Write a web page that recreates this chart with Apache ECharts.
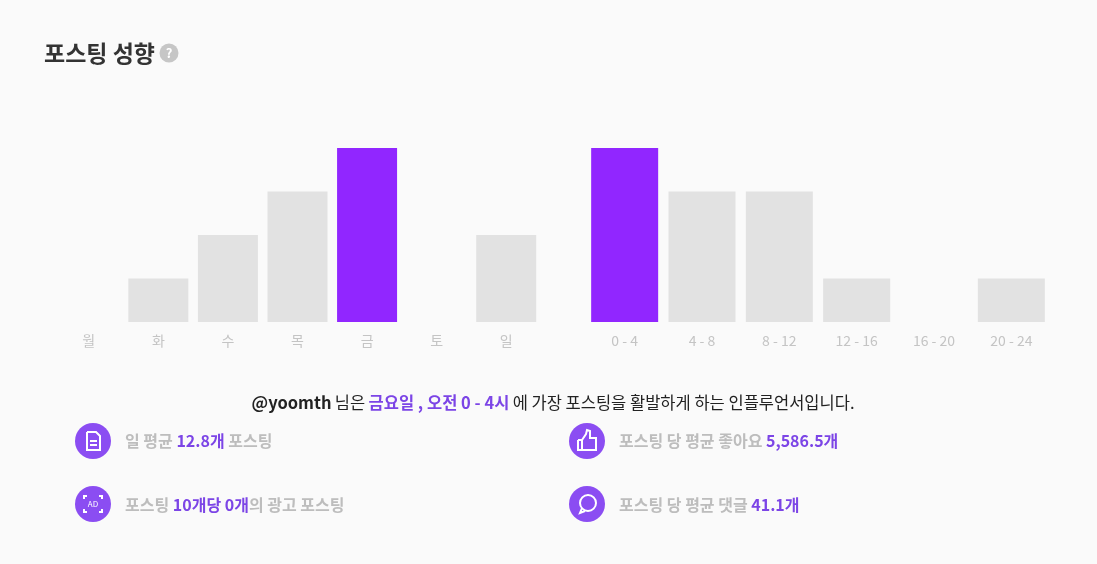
<!DOCTYPE html>
<html><head><meta charset="utf-8">
<script src="https://cdn.jsdelivr.net/npm/echarts@6/dist/echarts.min.js"></script>
<style>html,body{margin:0;padding:0;background:#fafafa;}#c{width:1097px;height:564px;}</style>
</head><body><div id="c"></div>
<script>
const dayLabels = ['월','화','수','목','금','토','일'];
const dayValues = [0, 1, 2, 3, 4, 0, 2];
const timeLabels = ['0 - 4','4 - 8','8 - 12','12 - 16','16 - 20','20 - 24'];
const timeValues = [4, 3, 3, 1, 0, 1];
const titleText = '포스팅 성향';
const userName = '@yoomth';
const topDay = '금요일';
const topTime = '오전 0 - 4시';
const dailyAvg = '12.8개';
const adPer10 = '0개';
const likesAvg = '5,586.5개';
const commentsAvg = '41.1개';

const PURPLE = '#9126ff';
const GRAY = '#e2e2e2';
const ICON = '#8b4df2';
const HL = '#7c45e6';
const FONT = '"Noto Sans CJK KR","Noto Sans",sans-serif';

function colorize(vals){
  const m = Math.max(...vals);
  return vals.map(v => ({value: v, itemStyle: {color: v === m ? PURPLE : GRAY}}));
}
const axisLab = {color:'#c4c4c4', fontSize:14, fontFamily:FONT, margin:12};

const chart = echarts.init(document.getElementById('c'));
function stat(x, y, parts){
  return {type:'text', x:x, y:y, style:{
    text: parts.map(p => p[1] ? '{h|'+p[0]+'}' : '{g|'+p[0]+'}').join(''),
    verticalAlign:'middle',
    rich:{g:{fontSize:16,fontWeight:'bold',fill:'#bdbdbd',fontFamily:FONT},
          h:{fontSize:16,fontWeight:'bold',fill:HL,fontFamily:FONT}}
  }};
}
function circ(cx, cy){ return {type:'circle', shape:{cx:cx, cy:cy, r:18}, style:{fill:ICON}}; }
const W = {stroke:'#fff', lineWidth:2, fill:'none'};

chart.setOption({
  backgroundColor:'#fafafa',
  animation:false,
  grid:[
    {left:54, width:487, top:148, height:174},
    {left:586, width:464, top:148, height:174}
  ],
  xAxis:[
    {type:'category', gridIndex:0, data:dayLabels, axisLine:{show:false}, axisTick:{show:false}, axisLabel:axisLab},
    {type:'category', gridIndex:1, data:timeLabels, axisLine:{show:false}, axisTick:{show:false}, axisLabel:axisLab}
  ],
  yAxis:[
    {type:'value', gridIndex:0, min:0, max:4, show:false},
    {type:'value', gridIndex:1, min:0, max:4, show:false}
  ],
  series:[
    {type:'bar', xAxisIndex:0, yAxisIndex:0, data:colorize(dayValues), barWidth:60},
    {type:'bar', xAxisIndex:1, yAxisIndex:1, data:colorize(timeValues), barWidth:67}
  ],
  graphic:[
    {type:'text', x:44, y:53, style:{text:titleText, fontSize:23, fontWeight:'bold', fill:'#333', verticalAlign:'middle', fontFamily:FONT}},
    {type:'circle', shape:{cx:169, cy:53, r:9.5}, style:{fill:'#c6c6c6'}},
    {type:'text', x:169, y:53, style:{text:'?', fontSize:13, fontWeight:'bold', fill:'#fff', align:'center', verticalAlign:'middle', fontFamily:FONT}},
    {type:'text', x:553, y:403, style:{
      text:'{b|'+userName+'} {n|님은} {p|'+topDay+' , '+topTime+'} {n|에 가장 포스팅을 활발하게 하는 인플루언서입니다.}',
      align:'center', verticalAlign:'middle',
      rich:{b:{fontSize:16.5,fontWeight:'bold',fill:'#222',fontFamily:FONT},
            n:{fontSize:16.5,fill:'#222',fontFamily:FONT},
            p:{fontSize:16.5,fontWeight:'bold',fill:HL,fontFamily:FONT}}
    }},
    circ(93,441), circ(93,504), circ(587,441), circ(587,504),
    // document icon
    {type:'polyline', shape:{points:[[87,432],[96,432],[100,436],[100,450],[87,450],[87,432]]}, style:W},
    {type:'line', shape:{x1:90,y1:441,x2:97,y2:441}, style:W},
    {type:'line', shape:{x1:90,y1:445,x2:97,y2:445}, style:W},
    // AD icon
    {type:'polyline', shape:{points:[[84,499],[84,496],[87,496]]}, style:W},
    {type:'polyline', shape:{points:[[99,496],[102,496],[102,499]]}, style:W},
    {type:'polyline', shape:{points:[[84,509],[84,512],[87,512]]}, style:W},
    {type:'polyline', shape:{points:[[99,512],[102,512],[102,509]]}, style:W},
    {type:'text', x:93, y:504, style:{text:'AD', fontSize:8, fill:'#fff', align:'center', verticalAlign:'middle', fontFamily:FONT}},
    // thumbs up icon
    {type:'polyline', shape:{points:[[578,440],[582,440],[582,450],[578,450],[578,440]]}, style:W},
    {type:'polyline', shape:{points:[[582,440],[586,434],[587,430],[590,431],[590,438],[596,438],[596,450],[582,450]]}, style:W},
    // comment icon
    {type:'circle', shape:{cx:588, cy:503, r:8}, style:W},
    {type:'polyline', shape:{points:[[582,508],[580,513],[585,511]]}, style:W},
    stat(125, 441, [['일 평균 ',0],[dailyAvg,1],[' 포스팅',0]]),
    stat(125, 505, [['포스팅 ',0],['10개당 '+adPer10,1],['의 광고 포스팅',0]]),
    stat(619, 441, [['포스팅 당 평균 좋아요 ',0],[likesAvg,1]]),
    stat(619, 505, [['포스팅 당 평균 댓글 ',0],[commentsAvg,1]])
  ]
});
</script></body></html>
